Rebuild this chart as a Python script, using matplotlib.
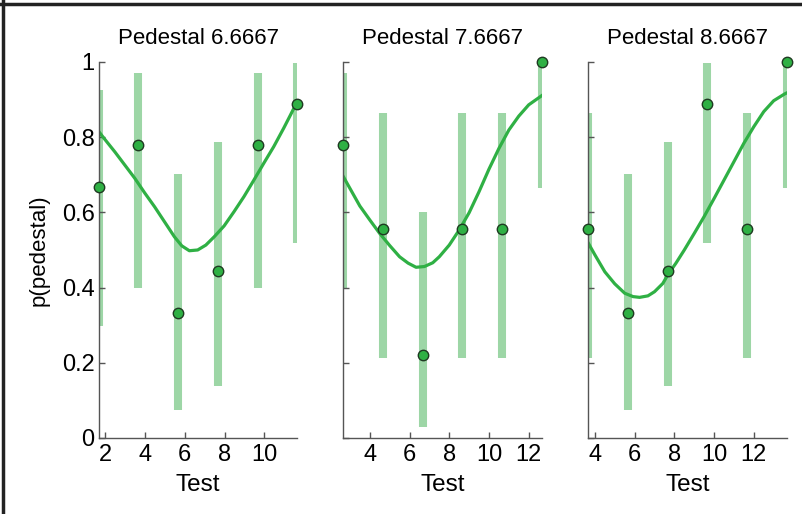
import matplotlib.pyplot as plt
from matplotlib.lines import Line2D

plt.rcParams['font.family'] = ['Liberation Sans', 'DejaVu Sans']

pedestals = ['6.6667', '7.6667', '8.6667']

# test levels per panel
test1 = [1.6667, 3.6667, 5.6667, 7.6667, 9.6667, 11.6667]
test2 = [2.6667, 4.6667, 6.6667, 8.6667, 10.6667, 12.6667]
test3 = [3.6667, 5.6667, 7.6667, 9.6667, 11.6667, 13.6667]

# observed proportions
p1 = [0.667, 0.778, 0.333, 0.444, 0.778, 0.889]
p2 = [0.778, 0.556, 0.222, 0.556, 0.556, 1.0]
p3 = [0.556, 0.333, 0.444, 0.889, 0.556, 1.0]

# confidence intervals
lo1 = [0.299, 0.400, 0.075, 0.137, 0.400, 0.518]
hi1 = [0.925, 0.972, 0.701, 0.788, 0.972, 0.997]
lo2 = [0.400, 0.212, 0.028, 0.212, 0.212, 0.664]
hi2 = [0.972, 0.863, 0.600, 0.863, 0.863, 1.0]
lo3 = [0.212, 0.075, 0.137, 0.518, 0.212, 0.664]
hi3 = [0.863, 0.701, 0.788, 0.997, 0.863, 1.0]

# fitted curves
cx1 = [1.67, 1.98, 2.48, 2.98, 3.48, 3.98, 4.48, 4.98, 5.48, 5.85, 6.23, 6.65,
       7.06, 7.48, 7.98, 8.48, 8.98, 9.48, 9.98, 10.48, 10.98, 11.32, 11.53, 11.67]
cy1 = [0.815, 0.794, 0.761, 0.726, 0.691, 0.652, 0.615, 0.575, 0.535, 0.511, 0.498, 0.500,
       0.513, 0.535, 0.564, 0.602, 0.642, 0.686, 0.731, 0.775, 0.824, 0.859, 0.881, 0.890]
cx2 = [2.67, 3.0, 3.5, 4.0, 4.5, 5.0, 5.5, 5.93, 6.33, 6.75, 7.17, 7.5,
       8.0, 8.5, 9.0, 9.5, 10.0, 10.5, 11.0, 11.5, 12.0, 12.67]
cy2 = [0.695, 0.664, 0.617, 0.580, 0.544, 0.512, 0.482, 0.465, 0.454, 0.456, 0.466, 0.482,
       0.513, 0.553, 0.599, 0.655, 0.715, 0.770, 0.819, 0.856, 0.886, 0.911]
cx3 = [3.67, 4.0, 4.5, 5.0, 5.5, 5.92, 6.25, 6.67, 7.0, 7.42, 7.67, 8.08,
       8.5, 9.0, 9.5, 10.0, 10.5, 11.0, 11.5, 12.0, 12.5, 13.0, 13.55, 13.67]
cy3 = [0.518, 0.487, 0.442, 0.410, 0.385, 0.376, 0.374, 0.378, 0.389, 0.411, 0.434, 0.465,
       0.500, 0.544, 0.589, 0.637, 0.686, 0.735, 0.784, 0.828, 0.868, 0.897, 0.915, 0.918]

tests = [test1, test2, test3]
props = [p1, p2, p3]
los = [lo1, lo2, lo3]
his = [hi1, hi2, hi3]
curves = [(cx1, cy1), (cx2, cy2), (cx3, cy3)]
xticks = [[2, 4, 6, 8, 10], [4, 6, 8, 10, 12], [4, 6, 8, 10, 12]]

bar_color = '#9dd6a6'
line_color = '#2fb044'
axis_color = '#555555'

fig = plt.figure(figsize=(8.03, 5.14), dpi=100)
lefts = [0.1229, 0.4275, 0.7326]
for i in range(3):
    ax = fig.add_axes([lefts[i], 0.1479, 0.2474, 0.7315])
    t = tests[i]
    ax.vlines(t, los[i], his[i], color=bar_color, lw=5.8, zorder=1)
    ax.plot(curves[i][0], curves[i][1], color=line_color, lw=2.3,
            solid_joinstyle='round', zorder=2)
    ax.plot(t, props[i], 'o', ms=7.5, mfc='#2fb044', mec='#1f3a22',
            mew=1.0, zorder=3, clip_on=False)
    ax.set_xlim(t[0], t[-1])
    ax.set_ylim(0, 1)
    ax.set_xticks(xticks[i])
    ax.set_yticks([0, 0.2, 0.4, 0.6, 0.8, 1])
    if i == 0:
        ax.set_yticklabels(['0', '0.2', '0.4', '0.6', '0.8', '1'])
        ax.set_ylabel('p(pedestal)', fontsize=16, labelpad=9)
    else:
        ax.set_yticklabels([])
    ax.set_title('Pedestal ' + pedestals[i], fontsize=16, pad=13)
    ax.set_xlabel('Test', fontsize=17.5, labelpad=6)
    ax.spines['top'].set_visible(False)
    ax.spines['right'].set_visible(False)
    for s in ['left', 'bottom']:
        ax.spines[s].set_color(axis_color)
        ax.spines[s].set_linewidth(1.0)
    ax.tick_params(direction='in', length=4, width=1, color=axis_color,
                   labelsize=17, pad=3)
    ax.tick_params(axis='x', pad=4)

# frame lines along the top and left edges
fig.add_artist(Line2D([0, 1], [1 - 3.5 / 514, 1 - 3.5 / 514], color='#222222', lw=2.5))
fig.add_artist(Line2D([3.5 / 803, 3.5 / 803], [0, 1], color='#222222', lw=2.5))

fig.savefig('out.png', dpi=100)
